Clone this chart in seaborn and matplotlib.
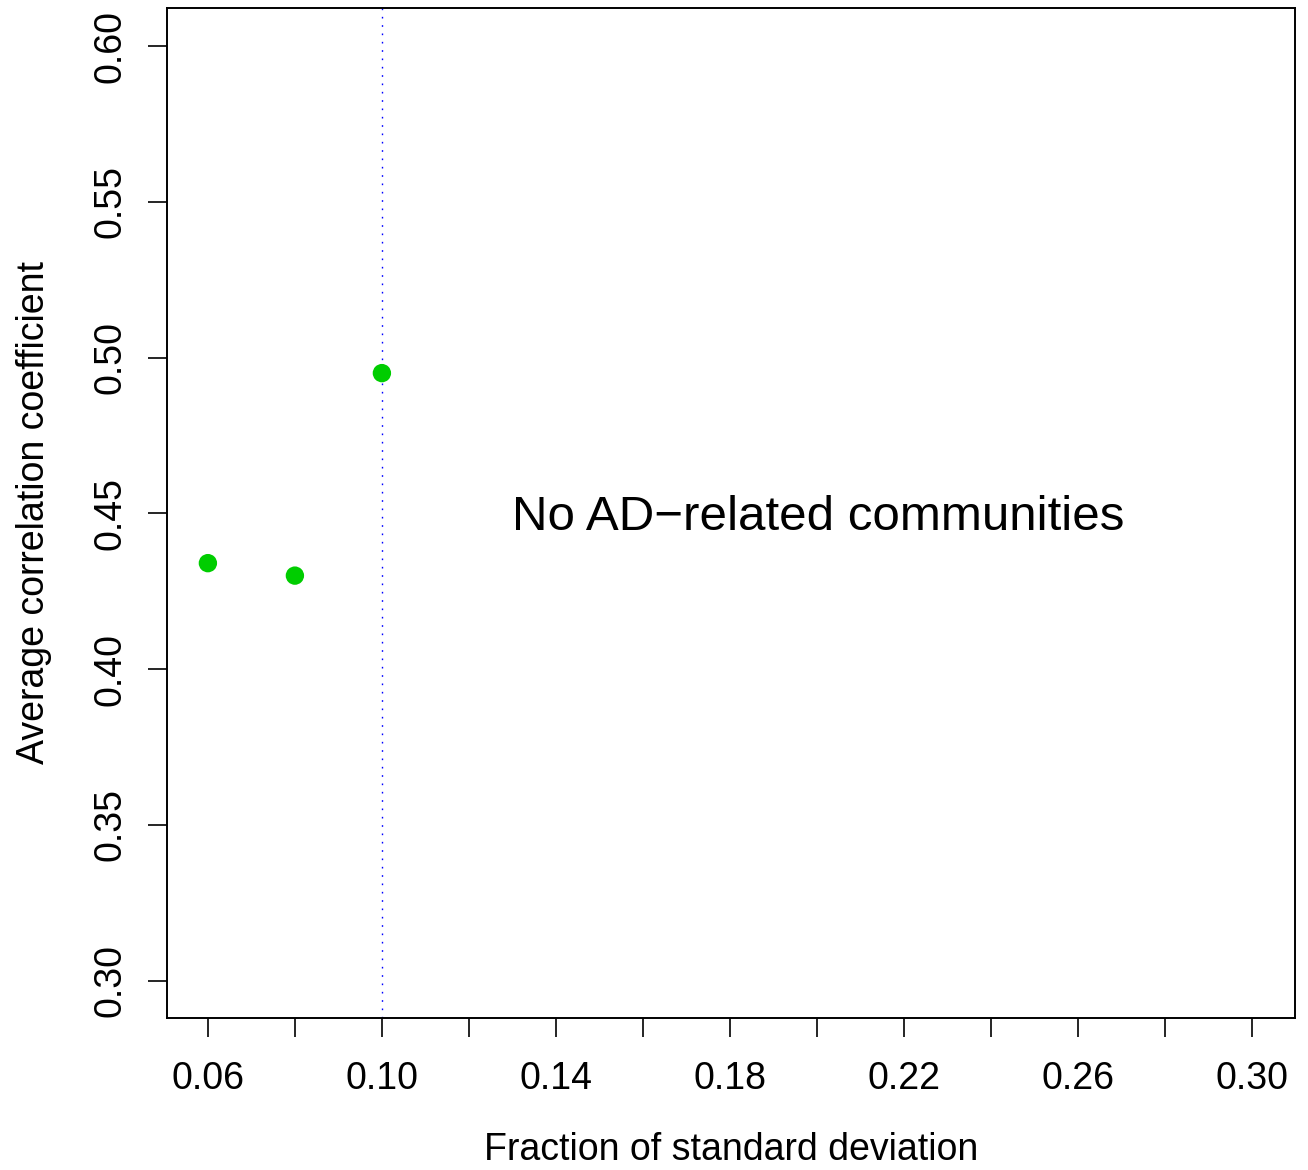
import matplotlib
matplotlib.use("Agg")
import matplotlib.pyplot as plt
import seaborn as sns
import pandas as pd
import numpy as np

# Data
fractions = [0.06, 0.08, 0.10]
avg_corr = [0.434, 0.430, 0.495]
threshold_x = 0.10
annotation = "No AD\u2212related communities"
x_ticks = [0.06, 0.08, 0.10, 0.12, 0.14, 0.16, 0.18, 0.20, 0.22, 0.24, 0.26, 0.28, 0.30]
x_labeled = [0.06, 0.10, 0.14, 0.18, 0.22, 0.26, 0.30]
y_ticks = [0.30, 0.35, 0.40, 0.45, 0.50, 0.55, 0.60]

sns.set_style("white")
plt.rcParams['font.family'] = ['Liberation Sans', 'DejaVu Sans']
plt.rcParams['text.color'] = 'black'
plt.rcParams['axes.labelcolor'] = 'black'

fig = plt.figure(figsize=(13.08, 11.70), dpi=100)
ax = fig.add_axes([167/1308, 1 - 1018/1170, (1295-167)/1308, (1018-8)/1170])

df = pd.DataFrame({"x": fractions, "y": avg_corr})
sns.scatterplot(data=df, x="x", y="y", ax=ax, color="#00CD00", s=175,
                edgecolor="none", zorder=3)
ax.axvline(threshold_x, color="blue", lw=1.0, linestyle=(0, (1.2, 4.8)), zorder=2)
ax.text(0.2003, 0.4487, annotation, fontsize=35.5, ha="center", va="center",
        color="black")

ax.set_xlim(0.0506, 0.3099)
ax.set_ylim(0.288, 0.6122)
ax.set_xticks(x_ticks)
ax.set_xticklabels([f"{t:.2f}" if any(abs(t - l) < 1e-9 for l in x_labeled) else "" for t in x_ticks])
ax.set_yticks(y_ticks)
ax.set_yticklabels([f"{t:.2f}" for t in y_ticks], rotation=90, va="center")

ax.tick_params(axis="both", direction="out", length=14, width=1.2, labelsize=27,
               color="black", labelcolor="black", bottom=True, left=True)
ax.tick_params(axis="x", pad=17)
ax.tick_params(axis="y", pad=14)
for sp in ax.spines.values():
    sp.set_visible(True)
    sp.set_linewidth(1.4)
    sp.set_color("black")

ax.set_xlabel("Fraction of standard deviation", fontsize=27, labelpad=25.5, color="black")
ax.set_ylabel("Average correlation coefficient", fontsize=27, labelpad=29, color="black")

fig.savefig("out.png", dpi=100)
